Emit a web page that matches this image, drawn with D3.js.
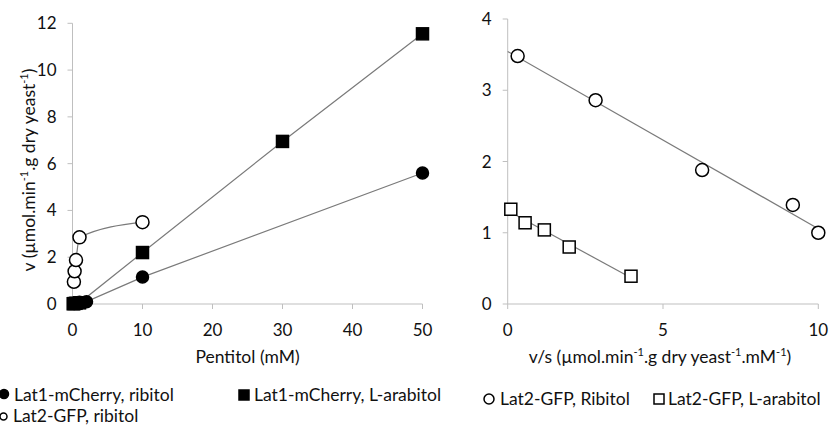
<!DOCTYPE html>
<html><head><meta charset="utf-8">
<script src="https://cdn.jsdelivr.net/npm/d3@7"></script>
<style>body{margin:0;background:#fff}svg{display:block}text{font-family:Lato,"Noto Sans",sans-serif;fill:#111}</style>
</head><body>
<svg id="c" width="830" height="426"></svg>
<script>
// ---- Left panel data (Pentitol mM vs v) ----
const lat1RibS = [0.25, 0.5, 1, 2, 10, 50];
const lat1RibV = [0.02, 0.04, 0.07, 0.1, 1.15, 5.6];
const lat1AraS = [0.1, 0.25, 0.5, 1, 10, 30, 50];
const lat1AraV = [0.01, 0.02, 0.03, 0.05, 2.2, 6.95, 11.55];
const lat2RibS = [0.2, 0.3, 0.5, 1, 10];
const lat2RibV = [0.95, 1.4, 1.88, 2.85, 3.5];
const leftXTicks = [0, 10, 20, 30, 40, 50];
const leftYTicks = [0, 2, 4, 6, 8, 10, 12];
// ---- Right panel data (v/s vs v) ----
const ribVS = [0.32, 2.83, 6.26, 9.18, 10.0];
const ribV  = [3.48, 2.86, 1.88, 1.39, 1.0];
const araVS = [0.1, 0.56, 1.18, 1.98, 3.97];
const araV  = [1.33, 1.14, 1.04, 0.80, 0.39];
const rightXTicks = [0, 5, 10];
const rightYTicks = [0, 1, 2, 3, 4];

const svg = d3.select("#c");
const AXIS = "#bfbfbf", LINE = "#7a7a7a";
const TF = 17, LF = 17.5;
const zip = (a, b) => a.map((v, i) => [v, b[i]]);

function axes(g, x, y, xt, yt) {
  const [x0, x1] = x.range(), [y0, y1] = y.range();
  g.append("line").attr("x1", x0).attr("x2", x0).attr("y1", y0).attr("y2", y1).attr("stroke", AXIS);
  g.append("line").attr("x1", x0).attr("x2", x1).attr("y1", y0).attr("y2", y0).attr("stroke", AXIS);
  yt.forEach(t => {
    g.append("line").attr("x1", x0 - 5).attr("x2", x0).attr("y1", y(t)).attr("y2", y(t)).attr("stroke", AXIS);
    g.append("text").attr("x", x0 - 16).attr("y", y(t) + 6).attr("text-anchor", "end").attr("font-size", TF).text(t);
  });
  xt.forEach(t => {
    g.append("line").attr("x1", x(t)).attr("x2", x(t)).attr("y1", y0).attr("y2", y0 + 5).attr("stroke", AXIS);
    g.append("text").attr("x", x(t)).attr("y", y0 + 32).attr("text-anchor", "middle").attr("font-size", TF).text(t);
  });
}
function supText(g, x, y, parts, rotate) {
  const t = g.append("text").attr("font-size", LF).attr("text-anchor", "middle")
    .attr("transform", `translate(${x},${y})` + (rotate ? " rotate(-90)" : ""));
  parts.forEach(p => {
    if (p[1]) t.append("tspan").attr("font-size", 11).attr("dy", -7).text(p[0]);
    else t.append("tspan").attr("font-size", LF).attr("dy", p[2] ? 7 : 0).text(p[0]);
  });
}
function marker(g, type, cx, cy, s) {
  if (type === "fc" || type === "oc")
    g.append("circle").attr("cx", cx).attr("cy", cy).attr("r", s / 2)
      .attr("fill", type === "fc" ? "#000" : "#fff").attr("stroke", "#000").attr("stroke-width", 1.5);
  else
    g.append("rect").attr("x", cx - s / 2).attr("y", cy - s / 2).attr("width", s).attr("height", s)
      .attr("fill", type === "fs" ? "#000" : "#fff").attr("stroke", "#000").attr("stroke-width", 1.5);
}

// ---- Left panel ----
const L = svg.append("g");
const xL = d3.scaleLinear().domain([0, 50]).range([72.5, 422.5]);
const yL = d3.scaleLinear().domain([0, 12]).range([304, 23.3]);
axes(L, xL, yL, leftXTicks, leftYTicks);
const lineL = d3.line().x(d => xL(d[0])).y(d => yL(d[1]));
L.append("path").attr("d", lineL(zip(lat1RibS, lat1RibV))).attr("fill", "none").attr("stroke", LINE).attr("stroke-width", 1.2);
L.append("path").attr("d", lineL(zip(lat1AraS, lat1AraV))).attr("fill", "none").attr("stroke", LINE).attr("stroke-width", 1.2);
L.append("path").attr("d", lineL.curve(d3.curveMonotoneX)(zip(lat2RibS, lat2RibV))).attr("fill", "none").attr("stroke", LINE).attr("stroke-width", 1.2);
zip(lat2RibS, lat2RibV).forEach(d => marker(L, "oc", xL(d[0]), yL(d[1]), 13));
zip(lat1AraS, lat1AraV).forEach(d => marker(L, "fs", xL(d[0]), yL(d[1]), 12));
zip(lat1RibS, lat1RibV).forEach(d => marker(L, "fc", xL(d[0]), yL(d[1]), 12));
L.append("text").attr("x", 247.5).attr("y", 363).attr("text-anchor", "middle").attr("font-size", LF).text("Pentitol (mM)");
supText(L, 35, 170, [["v (µmol.min"], ["-1", true], [".g dry yeast", false, true], ["-1", true], [")", false, true]], true);
// legend
marker(L, "fc", 4, 394, 9);
L.append("text").attr("x", 14).attr("y", 401).attr("font-size", LF).text("Lat1-mCherry, ribitol");
marker(L, "fs", 244, 395, 10);
L.append("text").attr("x", 254).attr("y", 401).attr("font-size", LF).text("Lat1-mCherry, L-arabitol");
marker(L, "oc", 3.5, 416.5, 7);
L.append("text").attr("x", 13).attr("y", 422).attr("font-size", LF).text("Lat2-GFP, ribitol");

// ---- Right panel ----
const R = svg.append("g");
const xR = d3.scaleLinear().domain([0, 10]).range([507.7, 818.3]);
const yR = d3.scaleLinear().domain([0, 4]).range([304, 19]);
axes(R, xR, yR, rightXTicks, rightYTicks);
function fitLine(xs, ys) {
  const mx = d3.mean(xs), my = d3.mean(ys);
  const b = d3.sum(xs.map((x, i) => (x - mx) * (ys[i] - my))) / d3.sum(xs.map(x => (x - mx) ** 2));
  const a = my - b * mx;
  const xe = d3.max(xs);
  return [[0, a], [xe, a + b * xe]];
}
const lineR = d3.line().x(d => xR(d[0])).y(d => yR(d[1]));
R.append("path").attr("d", lineR(fitLine(ribVS, ribV))).attr("stroke", LINE).attr("stroke-width", 1.2).attr("fill", "none");
R.append("path").attr("d", lineR(fitLine(araVS, araV))).attr("stroke", LINE).attr("stroke-width", 1.2).attr("fill", "none");
zip(ribVS, ribV).forEach(d => marker(R, "oc", xR(d[0]), yR(d[1]), 13));
zip(araVS, araV).forEach(d => marker(R, "os", xR(d[0]), yR(d[1]), 12));
supText(R, 660, 363, [["v/s (µmol.min"], ["-1", true], [".g dry yeast", false, true], ["-1", true], [".mM", false, true], ["-1", true], [")", false, true]], false);
marker(R, "oc", 489, 399, 10);
R.append("text").attr("x", 500).attr("y", 405).attr("font-size", LF).text("Lat2-GFP, Ribitol");
marker(R, "os", 659, 399, 10);
R.append("text").attr("x", 668).attr("y", 405).attr("font-size", LF).text("Lat2-GFP, L-arabitol");
</script>
</body></html>
